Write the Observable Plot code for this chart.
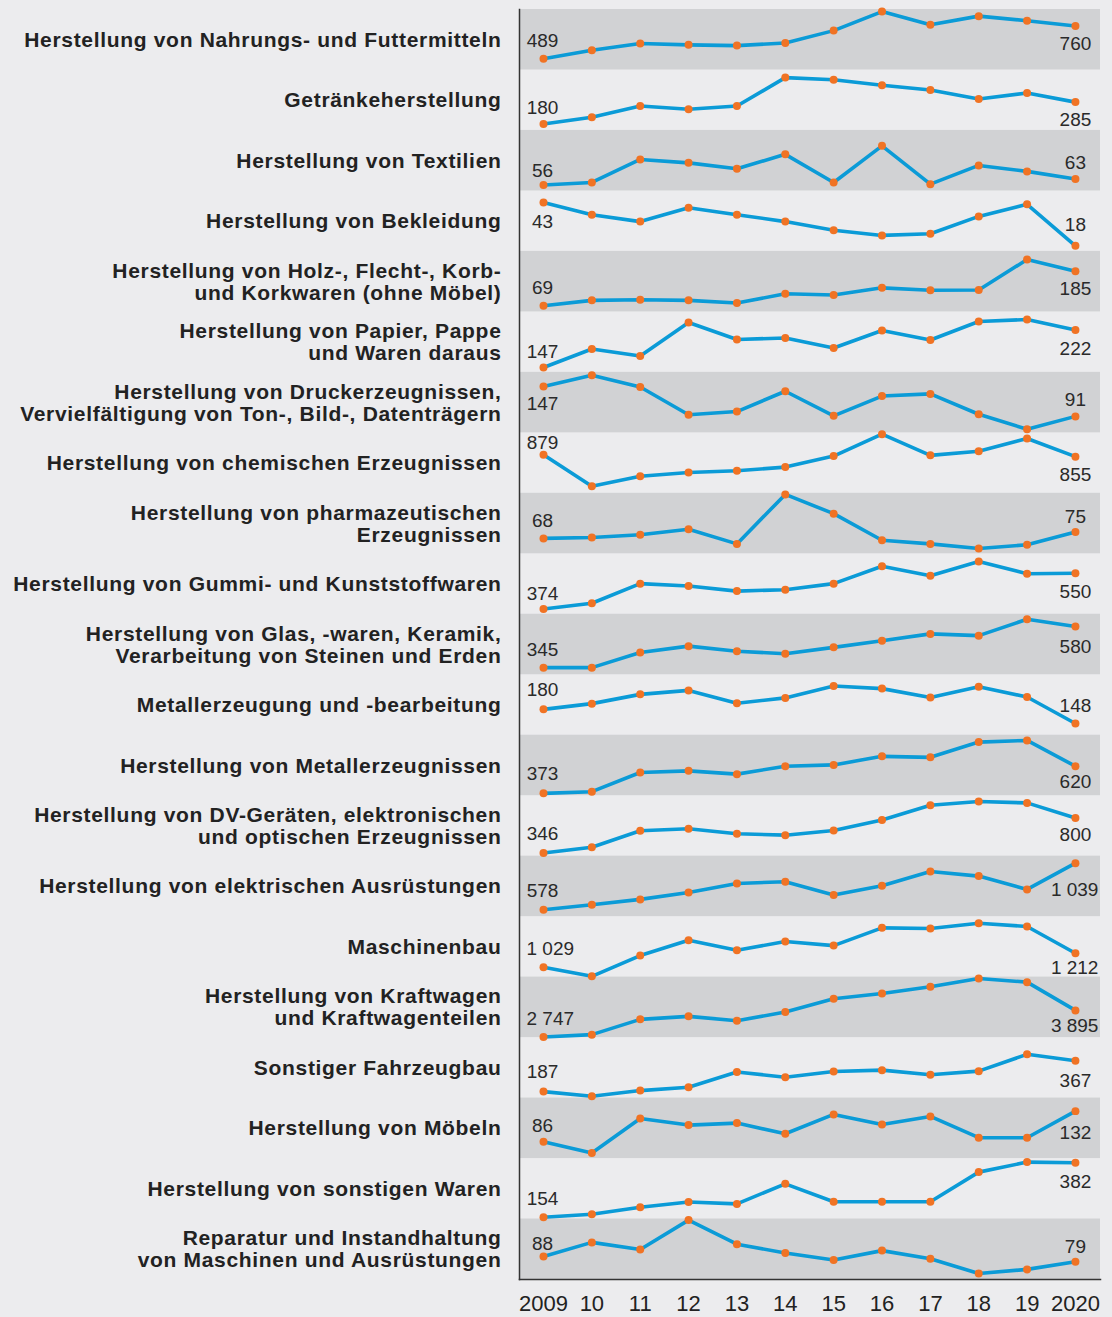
<!DOCTYPE html>
<html>
<head>
<meta charset="utf-8">
<script src="https://cdn.jsdelivr.net/npm/d3@7"></script>
<script src="https://cdn.jsdelivr.net/npm/@observablehq/plot@0.6"></script>
<style>
  html, body { margin: 0; padding: 0; background: #ececee; }
  #chart { position: relative; width: 1112px; height: 1317px; }
  #chart svg { display: block; }
  #chart .row { position: absolute; left: 0; }
  #chart g[font-weight="bold"], #chart g[font-weight="bold"] text { letter-spacing: 0.68px; }
</style>
</head>
<body>
<div id="chart"></div>
<script>
// ---------- data ----------
const years = [2009, 2010, 2011, 2012, 2013, 2014, 2015, 2016, 2017, 2018, 2019, 2020];

const categories = [
  "Herstellung von Nahrungs- und Futtermitteln",
  "Getränkeherstellung",
  "Herstellung von Textilien",
  "Herstellung von Bekleidung",
  "Herstellung von Holz-, Flecht-, Korb-\nund Korkwaren (ohne Möbel)",
  "Herstellung von Papier, Pappe\nund Waren daraus",
  "Herstellung von Druckerzeugnissen,\nVervielfältigung von Ton-, Bild-, Datenträgern",
  "Herstellung von chemischen Erzeugnissen",
  "Herstellung von pharmazeutischen\nErzeugnissen",
  "Herstellung von Gummi- und Kunststoffwaren",
  "Herstellung von Glas, -waren, Keramik,\nVerarbeitung von Steinen und Erden",
  "Metallerzeugung und -bearbeitung",
  "Herstellung von Metallerzeugnissen",
  "Herstellung von DV-Geräten, elektronischen\nund optischen Erzeugnissen",
  "Herstellung von elektrischen Ausrüstungen",
  "Maschinenbau",
  "Herstellung von Kraftwagen\nund Kraftwagenteilen",
  "Sonstiger Fahrzeugbau",
  "Herstellung von Möbeln",
  "Herstellung von sonstigen Waren",
  "Reparatur und Instandhaltung\nvon Maschinen und Ausrüstungen"
];

const nahrung     = [489, 560, 615, 604, 598, 620, 722, 880, 771, 842, 804, 760];
const getraenke   = [180, 212, 266, 251, 266, 403, 393, 366, 343, 300, 329, 285];
const textilien   = [56, 59, 86, 82, 75, 92, 59, 102, 57, 79, 72, 63];
const bekleidung  = [43, 36, 32, 40, 36, 32, 27, 24, 25, 35, 42, 18];
const holz        = [69, 87, 89, 87, 78, 109, 105, 129, 121, 122, 224, 185];
const papier      = [147, 184, 170, 237, 203, 206, 186, 221, 202, 239, 243, 222];
const druck       = [147, 168, 146, 94, 100, 138, 92, 129, 133, 95, 67, 91];
const chemie      = [879, 503, 623, 667, 687, 731, 863, 1123, 871, 919, 1071, 855];
const pharma      = [68, 69, 72, 78, 62, 116, 95, 66, 62, 57, 61, 75];
const gummi       = [374, 402, 499, 487, 462, 469, 499, 585, 538, 608, 548, 550];
const glas        = [345, 345, 432, 468, 439, 424, 461, 499, 538, 528, 622, 580];
const metallerz   = [180, 193, 214, 223, 194, 206, 233, 227, 207, 231, 208, 148];
const metallwaren = [373, 388, 563, 578, 548, 620, 632, 710, 701, 840, 855, 620];
const dvGeraete   = [346, 420, 634, 660, 595, 577, 638, 774, 966, 1014, 996, 800];
const elektro     = [578, 627, 680, 749, 838, 855, 723, 815, 957, 911, 779, 1039];
const maschinen   = [1029, 911, 1182, 1382, 1251, 1365, 1312, 1543, 1534, 1604, 1561, 1212];
const kraftwagen  = [2747, 2847, 3508, 3637, 3450, 3823, 4397, 4627, 4914, 5273, 5115, 3895];
const fahrzeugbau = [187, 160, 193, 212, 301, 271, 304, 312, 285, 306, 404, 367];
const moebel      = [86, 69, 121, 111, 114, 98, 127, 112, 124, 92, 92, 132];
const sonstige    = [154, 167, 196, 218, 210, 294, 219, 219, 219, 343, 385, 382];
const reparatur   = [88, 112, 100, 150, 109, 94, 82, 98, 84, 59, 66, 79];

const series = [nahrung, getraenke, textilien, bekleidung, holz, papier, druck, chemie,
  pharma, gummi, glas, metallerz, metallwaren, dvGeraete, elektro, maschinen,
  kraftwagen, fahrzeugbau, moebel, sonstige, reparatur];

// per-row value-axis domains (each panel has its own scale)
const yLow  = [396, 151, 49, 15, 48, 138, 60, 423, 51, 349, 303, 122, 349, 307, 506, 903, 2704, 150, 60, 147, 48];
const yHigh = [897, 442, 120, 50, 251, 259, 173, 1143, 117, 648, 649, 259, 900, 1092, 1105, 1691, 5316, 502, 151, 400, 151];

// ---------- annotation placement (label offset from its point, px) ----------
const firstDy = [-18, -16, -14, 19, -18, -16, 17, -12, -17, -15, -18, -19, -19, -19, -19, -18, -18, -20, -16, -18, -13];
const lastDy  = [18, 18, -16, -21, 18, 19, -16, 18, -15, 19, 20, -18, 16, 17, 27, 15, 16, 20, 22, 19, -15];

// ---------- styling ----------
const FONT = "'Liberation Sans', Arial, Helvetica, sans-serif";
const BAND = "#d1d2d4";
const BLUE = "#0b9bd7";
const ORANGE = "#f07324";
const INK = "#222";

const W = 1112, MT = 9, MB = 38, ML = 519, MR = 12;
const plotH = 1317 - MT - MB;
const rowH = plotH / categories.length;

const fmt = d3.formatLocale({decimal: ",", thousands: " ", grouping: [3], currency: ["", ""]}).format(",d");
const yearLabel = d => (d === 2009 || d === 2020) ? String(d) : String(d).slice(2);

const xScale = {domain: [2009, 2020], insetLeft: 24, insetRight: 25};

const chart = document.getElementById("chart");

// background: bands, category labels, axes
const bg = Plot.plot({
  width: W, height: 1317,
  marginTop: MT, marginBottom: MB, marginLeft: ML, marginRight: MR,
  style: {background: "transparent", fontFamily: FONT, color: INK, overflow: "visible"},
  x: {...xScale, axis: null},
  y: {type: "band", domain: categories, padding: 0, round: false, axis: null},
  marks: [
    Plot.cell(categories.filter((d, i) => i % 2 === 0), {y: d => d, fill: BAND}),
    Plot.text(categories, {
      y: d => d, text: d => d, frameAnchor: "left", textAnchor: "end", dx: -18,
      fontWeight: "bold", fontSize: 21, lineHeight: 1.05, fill: INK
    }),
    Plot.axisX(years, {tickSize: 0, tickPadding: 16, tickFormat: yearLabel, fontSize: 22, fill: INK}),
    Plot.frame({anchor: "left", stroke: "#333", strokeWidth: 1.5}),
    Plot.frame({anchor: "bottom", stroke: "#333", strokeWidth: 1.5})
  ]
});
chart.appendChild(bg);

// one transparent panel per row, each with its own y scale
series.forEach((vals, i) => {
  const rows = years.map((year, j) => ({year, value: vals[j]}));
  const first = {year: years[0], value: vals[0], label: fmt(vals[0])};
  const last = {year: years[years.length - 1], value: vals[vals.length - 1], label: fmt(vals[vals.length - 1])};
  const firstLong = first.label.length > 3;
  const lastLong = last.label.length > 3;
  const p = Plot.plot({
    width: W, height: rowH,
    marginTop: 0, marginBottom: 0, marginLeft: ML, marginRight: MR,
    style: {background: "transparent", fontFamily: FONT, overflow: "visible"},
    x: {...xScale, axis: null},
    y: {domain: [yLow[i], yHigh[i]], axis: null},
    marks: [
      Plot.line(rows, {x: "year", y: "value", stroke: BLUE, strokeWidth: 3.6}),
      Plot.dot(rows, {x: "year", y: "value", r: 4, fill: ORANGE, stroke: "none"}),
      Plot.text([first], {
        x: "year", y: "value", text: "label", fontSize: 19, fill: "#2a2a2a",
        dy: firstDy[i],
        textAnchor: firstLong ? "start" : "middle", dx: firstLong ? -17 : -1
      }),
      Plot.text([last], {
        x: "year", y: "value", text: "label", fontSize: 19, fill: "#2a2a2a",
        dy: lastDy[i],
        textAnchor: lastLong ? "end" : "middle", dx: lastLong ? 23 : 0
      })
    ]
  });
  p.classList.add("row");
  p.style.top = (MT + i * rowH) + "px";
  chart.appendChild(p);
});
</script>
</body>
</html>
